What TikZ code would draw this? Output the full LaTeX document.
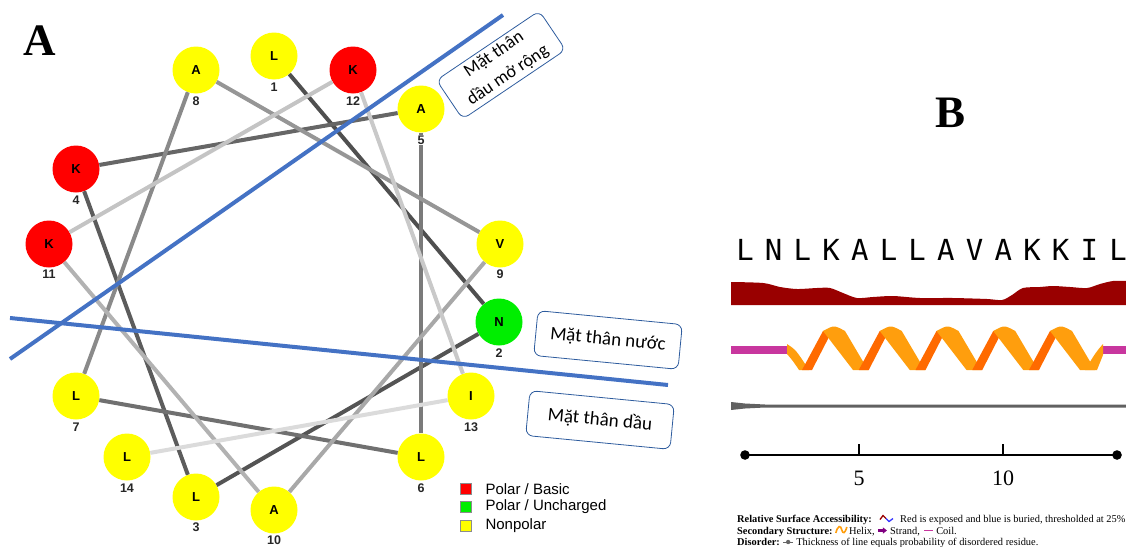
\documentclass[tikz,border=0pt]{standalone}
\usepackage{fontspec}
\setmainfont{Liberation Serif}
\newfontfamily\arialf{Liberation Sans}
\newfontfamily\calf{Carlito}
\newfontfamily\monof{DejaVu Sans Mono}
\usetikzlibrary{calc,arrows.meta}
\definecolor{wblue}{HTML}{4472C4}
\definecolor{boxblue}{HTML}{2E5C9E}
\definecolor{resy}{HTML}{FFFF00}
\definecolor{resr}{HTML}{FF0000}
\definecolor{resg}{HTML}{00EE00}
\definecolor{accred}{HTML}{990000}
\definecolor{hlight}{HTML}{FF9E0D}
\definecolor{hdark}{HTML}{FF6A00}
\definecolor{coilc}{HTML}{C8369E}
\tikzset{
  res/.style={circle, minimum size=47pt, inner sep=0pt, font=\arialf\bfseries\fontsize{13}{13}\selectfont},
  numl/.style={inner sep=0pt, text=black!85, font=\arialf\bfseries\fontsize{12.5}{13}\selectfont},
  wedge/.style={line width=4pt},
  bline/.style={draw=wblue, line width=4pt},
  tbox/.style={draw=boxblue, line width=0.8pt, rounded corners=7pt, fill=white, align=center,
    inner sep=0pt, font=\calf\fontsize{19}{21}\selectfont},
  lsq/.style={draw=black!45, line width=0.6pt, minimum size=11pt, inner sep=0pt},
  legt/.style={inner sep=0pt, anchor=west, font=\arialf\fontsize{15}{17}\selectfont},
  seql/.style={inner sep=0pt, anchor=base, font=\monof\fontsize{29}{32}\selectfont},
  legtxt/.style={inner sep=0pt, anchor=base west, font=\fontsize{10.4}{12}\selectfont},
  panl/.style={inner sep=0pt, anchor=base, font=\bfseries\fontsize{45}{50}\selectfont},
}
\begin{document}
\begin{tikzpicture}[x=1pt,y=-1pt]
\useasboundingbox (0,0) rectangle (1126,546);
% ---------- Panel A ----------
\node[panl] (pA) at (40,55) {A};
% residues
\node[res, fill=resy] (r1)  at (274,56)  {L};
\node[res, fill=resg] (r2)  at (499,322) {N};
\node[res, fill=resy] (r3)  at (196,497) {L};
\node[res, fill=resr] (r4)  at (76,169)  {K};
\node[res, fill=resy] (r5)  at (421,109) {A};
\node[res, fill=resy] (r6)  at (421,457) {L};
\node[res, fill=resy] (r7)  at (76,396)  {L};
\node[res, fill=resy] (r8)  at (196,70)  {A};
\node[res, fill=resy] (r9)  at (500,244) {V};
\node[res, fill=resy] (r10) at (274,510) {A};
\node[res, fill=resr] (r11) at (49,244)  {K};
\node[res, fill=resr] (r12) at (353,70)  {K};
\node[res, fill=resy] (r13) at (471,396) {I};
\node[res, fill=resy] (r14) at (127,457) {L};
% wheel connectors
\foreach \a/\b/\g in {1/2/69, 2/3/67, 3/4/64, 4/5/60, 5/6/52, 6/7/56, 7/8/46, 8/9/41, 9/10/34, 10/11/30, 11/12/23, 12/13/21, 13/14/14}
  \draw[wedge, black!\g] (r\a) -- (r\b);
% numbers
\node[numl, fill=white, inner sep=1pt] (n5)  at (421,140) {5};
\node[numl] (n1)  at (274,87)  {1};
\node[numl] (n2)  at (499,353) {2};
\node[numl] (n3)  at (196,527) {3};
\node[numl] (n4)  at (76,200)  {4};
\node[numl] (n6)  at (421,488) {6};
\node[numl] (n7)  at (76,427)  {7};
\node[numl] (n8)  at (196,101) {8};
\node[numl] (n9)  at (500,274) {9};
\node[numl] (n10) at (274,540) {10};
\node[numl] (n11) at (49,274)  {11};
\node[numl] (n12) at (353,101) {12};
\node[numl] (n13) at (471,427) {13};
\node[numl] (n14) at (127,488) {14};
% blue separating lines
\coordinate (b1s) at (10,359);
\coordinate (b1e) at (503,15);
\coordinate (b2s) at (10,318);
\coordinate (b2e) at (668,385);
\draw[bline] (b1s) -- (b1e);
\draw[bline] (b2s) -- (b2e);
% labelled boxes
\node[tbox, minimum width=124pt, minimum height=47pt, rotate=34, font=\calf\fontsize{18}{25}\selectfont] (bx1) at (501,65) {Mặt thân\\dầu mở rộng};
\node[tbox, minimum width=145pt, minimum height=45pt, rotate=-5.5] (bx2) at (608,340) {Mặt thân nước};
\node[tbox, minimum width=145pt, minimum height=45pt, rotate=-5.5] (bx3) at (600,420) {Mặt thân dầu};
% legend
\node[lsq, fill=resr] (q1) at (465.5,489) {};
\node[lsq, fill=resg] (q2) at (465.5,507) {};
\node[lsq, fill=resy] (q3) at (465.5,526) {};
\node[legt] (lt1) at ([xshift=14pt]q1.east) {Polar / Basic};
\node[legt] (lt2) at ([xshift=14pt]q2.east) {Polar / Uncharged};
\node[legt] (lt3) at ([xshift=14pt]q3.east) {Nonpolar};
% ---------- Panel B ----------
\node[panl] (pB) at (950,127) {B};
\foreach \c [count=\i from 0] in {L,N,L,K,A,L,L,A,V,A,K,K,I,L}
  \node[seql] (s\i) at (745+28.7*\i,260.5) {\c};
% relative surface accessibility
\fill[accred] (731,305) -- plot[smooth] coordinates {(731,282) (763,283) (780,287) (797,289) (817,288) (830,288) (843,293) (857,298) (873,297) (893,296) (920,298) (953,298) (987,299) (1002,300) (1012,295) (1023,288) (1040,287) (1053,286) (1070,287) (1087,288) (1100,284) (1113,281) (1126,281)} -- (1126,305) -- cycle;
% coil
\fill[coilc] (731,346) rectangle (788,354);
\fill[coilc] (1103,346) rectangle (1126,354);
% helix
\fill[hlight] (787,344) .. controls (796,350) .. (809,370) -- (799,370) .. controls (793,361) .. (787,354) -- cycle;
\foreach \k in {0,...,4} {
  \pgfmathsetmacro\P{830+56.75*\k}
  \fill[hdark] (\P-28,370) -- (\P-18,370) -- (\P+1,333) -- (\P-7,331) -- cycle;
  \fill[hlight] (\P-7,331) .. controls (\P+4,325) .. (\P+15,331) -- (\P+38,370) -- (\P+23,370) -- cycle;
}
\fill[hlight] (1085,370) -- (1097,370) .. controls (1100,362) .. (1103,355) -- (1103,344) .. controls (1096,352) .. (1085,370) -- cycle;
% disorder line
\fill[black!62] (731,402) -- (745,403.5) -- (765,404.5) -- (1126,404.5) -- (1126,407.5) -- (765,407.5) -- (745,408.5) -- (731,410) -- cycle;
% axis
\coordinate (ax0) at (745,455);
\coordinate (ax1) at (1117,455);
\coordinate (tk5) at (859,455);
\coordinate (tk10) at (1003,455);
\draw[line width=2.5pt] (ax0) -- (ax1);
\fill (ax0) circle (4.8pt);
\fill (ax1) circle (4.8pt);
\draw[line width=2.5pt] (tk5) -- ++(0,-11);
\draw[line width=2.5pt] (tk10) -- ++(0,-11);
\node[inner sep=0pt, anchor=base, font=\fontsize{22}{24}\selectfont] (lb5) at (859,485) {5};
\node[inner sep=0pt, anchor=base, font=\fontsize{22}{24}\selectfont] (lb10) at (1003,485) {10};
% bottom legend text
\node[legtxt] (l1a) at (737,522.5) {\textbf{Relative Surface Accessibility:}};
\begin{scope}[shift={(l1a.base east)}]
  \draw[accred, line width=1.3pt] (8,-3) -- (11,-7) -- (14,-4);
  \draw[blue!80!white, line width=1.3pt] (14,-4) -- (17,-1) -- (21,-4);
\end{scope}
\node[legtxt] (l1b) at ([xshift=28pt]l1a.base east) {Red is exposed and blue is buried, thresholded at 25\%};
\node[legtxt] (l2a) at (737,534) {\textbf{Secondary Structure:}};
\begin{scope}[shift={(l2a.base east)}]
  \draw[hlight, line width=1.6pt] (3,-1) .. controls (5,-9) and (8,-9) .. (9,-4) .. controls (10,0) and (12,0) .. (14,-7);
\end{scope}
\node[legtxt] (l2b) at ([xshift=16pt]l2a.base east) {Helix,};
\begin{scope}[shift={(l2b.base east)}]
  \draw[violet, line width=2.2pt, -{Triangle[length=4pt,width=6pt]}] (3,-3.5) -- (12,-3.5);
\end{scope}
\node[legtxt] (l2c) at ([xshift=15pt]l2b.base east) {Strand,};
\begin{scope}[shift={(l2c.base east)}]
  \draw[coilc, line width=1.2pt] (4,-3.5) -- (13,-3.5);
\end{scope}
\node[legtxt] (l2d) at ([xshift=16pt]l2c.base east) {Coil.};
\node[legtxt] (l3a) at (737,545.5) {\textbf{Disorder:}};
\begin{scope}[shift={(l3a.base east)}]
  \draw[black!60, line width=0.8pt] (3,-3.5) -- (13,-3.5);
  \fill[black!60] (8,-3.5) circle (2.2pt);
\end{scope}
\node[legtxt] (l3b) at ([xshift=16pt]l3a.base east) {Thickness of line equals probability of disordered residue.};
\end{tikzpicture}
\end{document}
